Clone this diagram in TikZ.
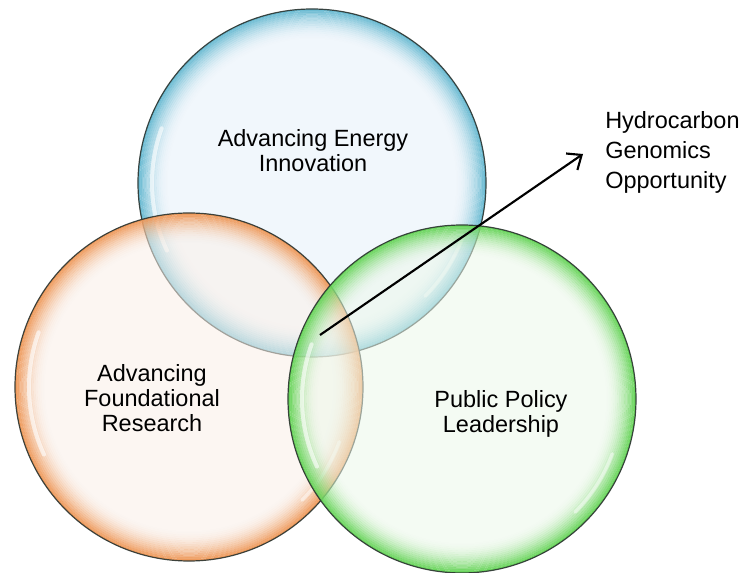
\documentclass[tikz,border=0pt]{standalone}
\usepackage{fontspec}
\setmainfont{Liberation Sans}
\usetikzlibrary{arrows.meta}

\definecolor{bluefill}{HTML}{E6F1FA}
\definecolor{blueedge}{HTML}{5FB6CF}
\definecolor{orangefill}{HTML}{FBF0E8}
\definecolor{orangeedge}{HTML}{EE9350}
\definecolor{greenfill}{HTML}{ECF8EA}
\definecolor{greenedge}{HTML}{5ED24F}
\definecolor{rimline}{HTML}{2A332F}

% one translucent bubble: name, centre, fill colour, rim colour
\newcommand\drawbubble[4]{%
  \node[bubble, fill=#3] (#1) at (#2) {};
  \foreach \k in {0,...,15}{%
    \pgfmathsetmacro\op{0.9*(1-\k/16)^2}%
    \pgfmathsetmacro\rr{130.5-0.7-1.4*\k}%
    \draw[#4, line width=1.45pt, draw opacity=\op] (#2) circle[radius=\rr pt];
  }%
  \draw[white, line width=3pt, draw opacity=0.6, line cap=round]
    (#2) ++(160:120pt) arc[start angle=160, end angle=205, radius=120pt];
  \draw[white, line width=2.5pt, draw opacity=0.5, line cap=round]
    (#2) ++(-20:120pt) arc[start angle=-20, end angle=-45, radius=120pt];
  \draw[rimline, line width=0.9pt, draw opacity=0.9] (#2) circle[radius=130.5pt];
}

\begin{document}
\begin{tikzpicture}[x=0.75pt, y=-0.75pt,
  bubble/.style={circle, minimum size=261pt, inner sep=0pt, fill opacity=0.55},
  bubbletext/.style={align=center, inner sep=0pt, text=black,
    font=\fontsize{17.6}{18.8}\selectfont},
  sidetext/.style={align=left, inner sep=0pt, text=black,
    font=\fontsize{17.6}{22.5}\selectfont},
  pointer/.style={line width=1.6pt, -{Straight Barb[length=9pt, width=15pt, line width=1.6pt]}}]
\useasboundingbox (0,0) rectangle (744,573);
\fill[white] (0,0) rectangle (744,573);

\drawbubble{energy}{312,183}{bluefill}{blueedge}
\drawbubble{found}{189,387}{orangefill}{orangeedge}
\drawbubble{policy}{462,399}{greenfill}{greenedge}

\node[bubbletext] (energytxt) at (313,151) {Advancing Energy\\Innovation};
\node[bubbletext] (foundtxt) at (152,398.5) {Advancing\\Foundational\\Research};
\node[bubbletext] (policytxt) at (501,413.5) {Public Policy\\Leadership};
\node[sidetext, anchor=west] (hgo) at (605,152) {Hydrocarbon\\Genomics\\Opportunity};

\coordinate (core) at (320,335);
\coordinate (tip) at (583,154);
\draw[pointer] (core) -- (tip);
\end{tikzpicture}
\end{document}
